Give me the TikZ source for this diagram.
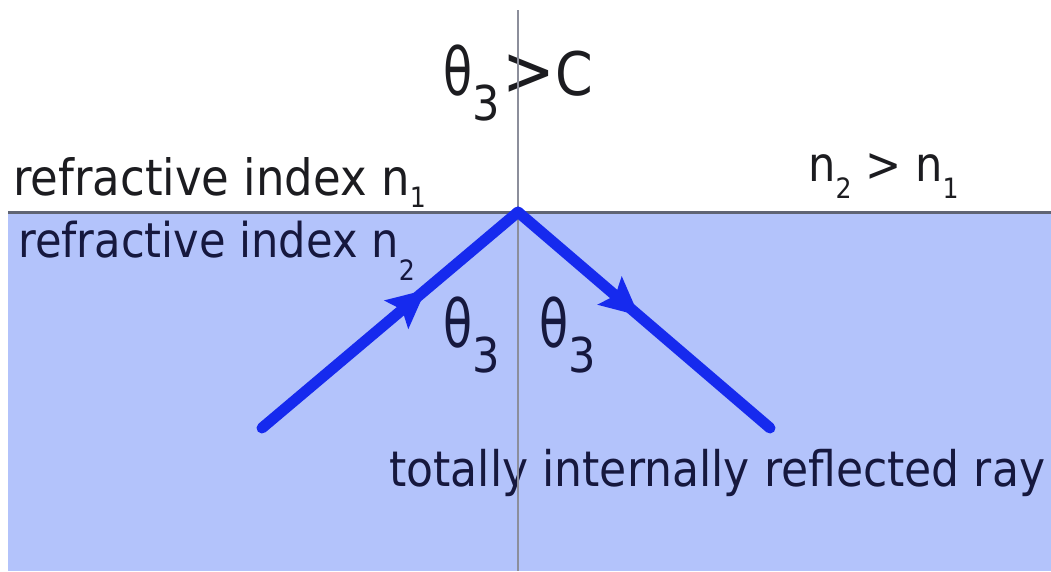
\documentclass[tikz,border=0pt]{standalone}
\usepackage{fontspec}
\usepackage{graphicx}
\usetikzlibrary{arrows.meta,decorations.markings}
\newfontfamily\tirFont[FakeStretch=0.9]{DejaVu Sans}
\definecolor{tirSea}{RGB}{179,195,251}
\definecolor{tirRay}{RGB}{22,42,238}
\definecolor{tirRule}{RGB}{95,100,115}
\definecolor{tirNormal}{RGB}{140,142,155}
\definecolor{tirInk}{RGB}{28,28,32}
\definecolor{tirInkSea}{RGB}{22,24,62}
\newcommand{\tirSize}[2]{{\fontsize{#1pt}{#1pt}\selectfont #2}}
\newcommand{\tirSub}[3]{\raisebox{-#1pt}{\tirSize{#2}{#3}}}
\newcommand{\tirTheta}{\tirSize{66}{\scalebox{0.8}[1]{θ}}\tirSub{25}{48}{3}}

\begin{document}
\begin{tikzpicture}[x=1pt,y=-1pt,
  tirLabel/.style={anchor=base west, inner sep=0pt, font={\tirFont\fontsize{#1pt}{#1pt}\selectfont}},
  tirRayLine/.style={draw=tirRay, line width=11pt, line cap=round,
    decoration={markings, mark=at position #1 with {\arrow[color=tirRay]{Stealth[length=38pt,width=36pt,inset=7pt]}}},
    postaction={decorate}}]
\useasboundingbox (0,0) rectangle (1051,571);
\fill[tirSea] (8,212) rectangle (1051,571);
% labels
\node[tirLabel=60, text=tirInk] (critTop) at (443,95) {\tirTheta\kern3pt\tirSize{70}{>}\tirSize{60}{C}};
\node[tirLabel=50, text=tirInk] (idxOne) at (13,195) {refractive index n\tirSub{12}{28}{1}};
\node[tirLabel=48, text=tirInk] (ratio) at (808,181) {n\tirSub{17}{28}{2} > n\tirSub{17}{28}{1}};
\node[tirLabel=48, text=tirInkSea] (idxTwo) at (18,257) {refractive index n\tirSub{23}{28}{2}};
\node[tirLabel=66, text=tirInkSea] (angIn) at (443,347) {\tirTheta};
\node[tirLabel=66, text=tirInkSea] (angOut) at (539,347) {\tirTheta};
\node[tirLabel=49, text=tirInkSea] (tirNote) at (389,486) {totally internally reflected ray};
% normal and surface
\coordinate (nTop) at (518,10);
\coordinate (nBot) at (518,571);
\coordinate (sLeft) at (8,212);
\coordinate (sRight) at (1051,212);
\draw[tirNormal, line width=2.5pt] (nTop) -- (nBot);
\draw[tirRule, line width=3pt] (sLeft) -- (sRight);
% rays
\coordinate (src) at (262,428);
\coordinate (hit) at (518,212);
\coordinate (out) at (770,428);
\path[tirRayLine=0.64] (src) -- (hit);
\path[tirRayLine=0.48] (hit) -- (out);
\end{tikzpicture}
\end{document}
